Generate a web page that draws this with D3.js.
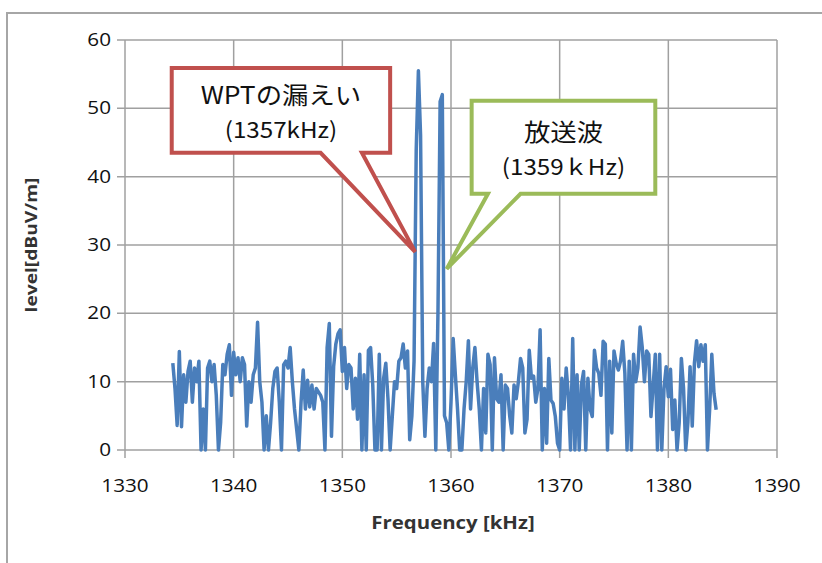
<!DOCTYPE html>
<html>
<head>
<meta charset="utf-8">
<script src="https://cdn.jsdelivr.net/npm/d3@7"></script>
<style>
  html, body { margin: 0; padding: 0; background: #fff; }
  svg { display: block; }
</style>
</head>
<body>
<div id="chart"></div>
<script>
// data (0.2 kHz steps starting at 1334.4 kHz)
var freqStart = 1334.4;
var freqStep = 0.2;
var levels = [
    12.7, 9, 3.6,                 // 1334.4 ..
    14.4, 3.4, 11, 7, 11.5,       // 1335
    13, 7, 12, 10, 13,            // 1336
    0, 6, 0, 12, 13,              // 1337
    10, 12.5, 8, 0, 4,            // 1338
    12.5, 11, 14, 15.4, 8,        // 1339
    14.3, 11, 13.5, 10, 13.5,     // 1340
    12.5, 3.5, 10, 7, 11,         // 1341
    12, 18.7, 10, 7, 0,           // 1342
    5, 0, 4, 9, 11.5,             // 1343
    12, 7, 0, 12.5, 13,           // 1344
    12, 15, 10, 6, 3,             // 1345
    0, 7, 11.7, 6, 10.2,          // 1346
    6.3, 9.5, 6, 9, 8.5,          // 1347
    8, 7, 0, 15, 18.5,            // 1348
    2, 12.2, 15.5, 17, 17.6,      // 1349
    11.5, 15, 9, 12.5, 12,        // 1350
    6, 10.5, 4.5, 14, 0,          // 1351
    11, 0, 14.6, 15, 9.5,         // 1352
    0, 0, 14, 0, 10.5,            // 1353
    12.7, 7.5, 0, 5, 10,          // 1354
    9, 13, 13.5, 15.5, 12,        // 1355
    14.5, 1.5, 5, 13, 44,         // 1356
    55.5, 46, 10, 2, 9,           // 1357
    12, 10, 15.6, 0, 20,          // 1358
    51, 52, 5, 4, 0,              // 1359
    7, 16.3, 11, 6, 0,            // 1360
    0, 6, 10, 16, 6,              // 1361
    12, 15, 10, 6, 0,             // 1362
    9, 2.5, 14, 12.5, 0,          // 1363
    13.5, 7.5, 7, 11, 0,          // 1364
    9.5, 9, 5, 2.5, 9.5,          // 1365
    7.5, 10, 13.4, 12, 2.5,       // 1366
    4.5, 14.6, 10.5, 10.8, 7,     // 1367
    9, 17.6, 0, 9, 1,             // 1368
    13.4, 7.3, 6.8, 4.9, 1,       // 1369
    0, 10.5, 6, 12, 8,            // 1370
    0, 16.3, 0, 11, 0,            // 1371
    9.5, 11.5, 0, 10.5, 6,        // 1372
    4.9, 14.6, 12, 11.2, 8,       // 1373
    15.9, 15.5, 0, 13, 2.5,       // 1374
    14.5, 12.7, 11.7, 13, 15.9,   // 1375
    11.2, 0, 13, 0, 14,           // 1376
    10, 12, 18, 15, 10,           // 1377
    14.5, 14, 4.9, 9.3, 14,       // 1378
    0, 14, 0, 9, 12.2,            // 1379
    7.8, 11.8, 3, 7.3, 0,         // 1380
    4, 13.4, 9, 0, 4,             // 1381
    12.2, 3.5, 12.7, 16, 12.2,    // 1382
    15.4, 13, 15.4, 0, 5.9,       // 1383
    14, 8.3, 5.9                  // 1384
];
var xTicks = [1330, 1340, 1350, 1360, 1370, 1380, 1390];
var yTicks = [0, 10, 20, 30, 40, 50, 60];

// callouts: box corners and tip in data units
var callouts = [
    { lines: ["WPTの漏えい", "(1357kHz)"], x0: 1334.3, x1: 1354.4, y0: 55.9, y1: 43.5,
      base0: 1348.0, base1: 1351.8, tipX: 1356.7, tipY: 29, color: "#c0504d" },
    { lines: ["放送波", "(1359ｋHz)"], x0: 1361.9, x1: 1378.8, y0: 51.1, y1: 37.5,
      base0: 1363.4, base1: 1366.4, tipX: 1359.6, tipY: 26.5, color: "#9bbb59" }
];

var width = 822, height = 563;
var margin = { top: 40, right: 45, bottom: 113, left: 125 };

var svg = d3.select("#chart").append("svg")
    .attr("width", width)
    .attr("height", height);

// outer chart border
svg.append("rect")
    .attr("x", 7).attr("y", 13)
    .attr("width", 830).attr("height", 580)
    .attr("fill", "none")
    .attr("stroke", "#a6a6a6")
    .attr("stroke-width", 2);

var x = d3.scaleLinear().domain([1330, 1390]).range([margin.left, width - margin.right]);
var y = d3.scaleLinear().domain([0, 60]).range([height - margin.bottom, margin.top]);

var gridColor = "#a0a0a0";

// grid lines
svg.append("g").selectAll("line.h")
    .data(yTicks).enter().append("line")
    .attr("x1", x(1330) - 8).attr("x2", x(1390))
    .attr("y1", function(d) { return y(d); })
    .attr("y2", function(d) { return y(d); })
    .attr("stroke", gridColor).attr("stroke-width", 1.5);

svg.append("g").selectAll("line.v")
    .data(xTicks).enter().append("line")
    .attr("x1", function(d) { return x(d); })
    .attr("x2", function(d) { return x(d); })
    .attr("y1", y(60)).attr("y2", y(0) + 8)
    .attr("stroke", gridColor).attr("stroke-width", 1.5);

// tick labels (the picture is a bit stretched sideways)
var sx = 1.15;
svg.append("g").selectAll("text")
    .data(xTicks).enter().append("text")
    .attr("transform", function(d) { return "translate(" + x(d) + "," + (y(0) + 42) + ") scale(" + sx + ",1)"; })
    .attr("text-anchor", "middle")
    .style("font-family", "'Open Sans', sans-serif")
    .style("font-size", "18px")
    .style("fill", "#111")
    .text(function(d) { return d; });

svg.append("g").selectAll("text")
    .data(yTicks).enter().append("text")
    .attr("transform", function(d) { return "translate(" + (x(1330) - 14) + "," + (y(d) + 6) + ") scale(" + sx + ",1)"; })
    .attr("text-anchor", "end")
    .style("font-family", "'Open Sans', sans-serif")
    .style("font-size", "18px")
    .style("fill", "#111")
    .text(function(d) { return d; });

// axis titles
svg.append("text")
    .attr("transform", "translate(453,529) scale(1.2,1)")
    .attr("text-anchor", "middle")
    .style("font-family", "'Open Sans', sans-serif")
    .style("font-weight", "bold")
    .style("font-size", "17px")
    .style("fill", "#333")
    .text("Frequency [kHz]");

svg.append("text")
    .attr("transform", "translate(37,245) rotate(-90) scale(1.2,1)")
    .attr("text-anchor", "middle")
    .style("font-family", "'Open Sans', sans-serif")
    .style("font-weight", "bold")
    .style("font-size", "16px")
    .style("fill", "#333")
    .text("level[dBuV/m]");

// the measured trace
var line = d3.line()
    .x(function(d, i) { return x(freqStart + i * freqStep); })
    .y(function(d) { return y(d); });

svg.append("path")
    .datum(levels)
    .attr("d", line)
    .attr("fill", "none")
    .attr("stroke", "#4a7ebb")
    .attr("stroke-width", 3.5)
    .attr("stroke-linejoin", "round");

// callouts
callouts.forEach(function(c) {
    var L = x(c.x0), R = x(c.x1), T = y(c.y0), B = y(c.y1);
    var p = "M" + L + "," + T + "L" + R + "," + T + "L" + R + "," + B +
        "L" + x(c.base1) + "," + B + "L" + x(c.tipX) + "," + y(c.tipY) +
        "L" + x(c.base0) + "," + B + "L" + L + "," + B + "Z";
    svg.append("path")
        .attr("d", p)
        .attr("fill", "#fff")
        .attr("stroke", c.color)
        .attr("stroke-width", 4)
        .attr("stroke-linejoin", "miter");
    var cx = (L + R) / 2, cy = (T + B) / 2;
    svg.append("text")
        .attr("transform", "translate(" + cx + "," + (cy - 6) + ") scale(1.1,1)")
        .attr("text-anchor", "middle")
        .style("font-family", "'Noto Sans CJK JP', sans-serif")
        .style("font-size", "24px")
        .style("fill", "#111")
        .text(c.lines[0]);
    svg.append("text")
        .attr("transform", "translate(" + cx + "," + (cy + 28) + ") scale(1.1,1)")
        .attr("text-anchor", "middle")
        .style("font-family", "'Noto Sans CJK JP', sans-serif")
        .style("font-size", "22px")
        .style("fill", "#111")
        .text(c.lines[1]);
});
</script>
</body>
</html>
